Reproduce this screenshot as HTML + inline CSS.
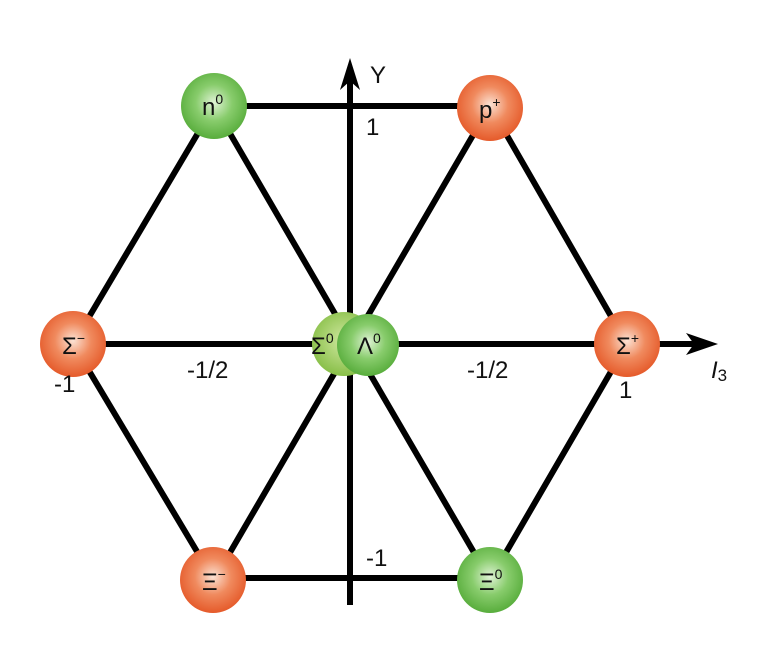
<!DOCTYPE html>
<html><head><style>body{margin:0;background:#fff}svg{display:block}text{font-family:"Liberation Sans","DejaVu Sans",sans-serif}</style></head>
<body>
<svg width="762" height="659" viewBox="0 0 762 659">
<defs>
<radialGradient id="r" cx="0.5" cy="0.45" r="0.55"><stop offset="0" stop-color="#fbe2d4"/><stop offset="0.5" stop-color="#f08a5e"/><stop offset="1" stop-color="#e55a2a"/></radialGradient>
<radialGradient id="g" cx="0.5" cy="0.45" r="0.55"><stop offset="0" stop-color="#e0f3d6"/><stop offset="0.5" stop-color="#88cc6c"/><stop offset="1" stop-color="#58ad3c"/></radialGradient>
<radialGradient id="g2" cx="0.5" cy="0.45" r="0.55"><stop offset="0" stop-color="#d0e8a0"/><stop offset="1" stop-color="#88bf48"/></radialGradient>
</defs>
<g stroke="#000" stroke-width="6" fill="none">
<line x1="214" y1="106" x2="490" y2="106"/>
<line x1="214" y1="578" x2="490" y2="578"/>
<line x1="73" y1="344" x2="700" y2="344"/>
<line x1="350" y1="75" x2="350" y2="605"/>
<line x1="214" y1="106" x2="73" y2="344"/>
<line x1="73" y1="344" x2="214" y2="580"/>
<line x1="490" y1="106" x2="627" y2="344"/>
<line x1="627" y1="344" x2="490" y2="580"/>
<line x1="214" y1="106" x2="490" y2="580"/>
<line x1="490" y1="106" x2="214" y2="580"/>
</g>
<polygon points="350,58 340,90 350,81 360,90" fill="#000"/>
<polygon points="718,344 686,333 694,344 686,355" fill="#000"/>
<circle cx="214" cy="106" r="33" fill="url(#g)"/>
<circle cx="490" cy="108" r="33" fill="url(#r)"/>
<circle cx="73" cy="344" r="33" fill="url(#r)"/>
<circle cx="627" cy="344" r="33" fill="url(#r)"/>
<circle cx="213" cy="580" r="33" fill="url(#r)"/>
<circle cx="490" cy="580" r="33" fill="url(#g)"/>
<circle cx="344" cy="344" r="32" fill="url(#g2)"/>
<circle cx="368" cy="345" r="31" fill="url(#g)"/>
<g font-size="24" fill="#111">
<text x="202" y="115">n<tspan font-size="14" dy="-11">0</tspan></text>
<text x="479" y="118">p<tspan font-size="14" dy="-11">+</tspan></text>
<text x="62" y="354">Σ<tspan font-size="14" dy="-11">−</tspan></text>
<text x="616" y="354">Σ<tspan font-size="14" dy="-11">+</tspan></text>
<text x="202" y="590">Ξ<tspan font-size="14" dy="-11">−</tspan></text>
<text x="479" y="590">Ξ<tspan font-size="14" dy="-11">0</tspan></text>
<text x="311" y="354">Σ<tspan font-size="14" dy="-11">0</tspan></text>
<text x="357" y="354">Λ<tspan font-size="14" dy="-11">0</tspan></text>
<text x="370" y="83">Y</text>
<text x="366" y="135">1</text>
<text x="54" y="392">-1</text>
<text x="187" y="378">-1/2</text>
<text x="467" y="378">-1/2</text>
<text x="619" y="398">1</text>
<text x="366" y="566">-1</text>
<text x="711" y="378" font-style="italic">I<tspan font-size="17" font-style="normal" dy="3">3</tspan></text>
</g>
</svg>
</body></html>
